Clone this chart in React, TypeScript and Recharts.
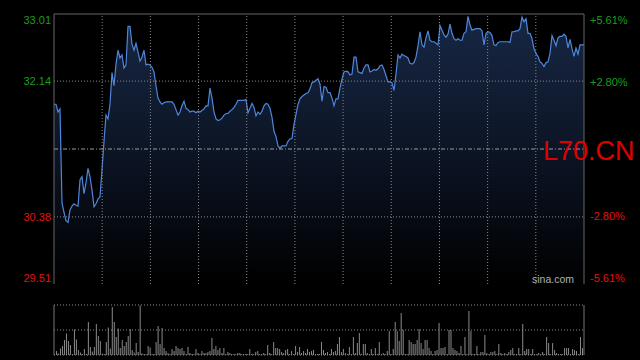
import React from "react";
import {
  ComposedChart,
  Area,
  Line,
  BarChart,
  Bar,
  XAxis,
  YAxis,
  ReferenceLine,
} from "recharts";

// intraday price per slot (2-minute style slots across the session)
const prices: number[] = [
  31.84, 31.84, 31.74, 31.78, 30.56, 30.44, 30.33, 30.31, 30.47, 30.52,
  30.55, 30.53, 30.52, 30.86, 30.9, 30.68, 30.82, 31.01, 30.9, 30.73,
  30.51, 30.55, 30.61, 30.64, 30.99, 31.36, 31.7, 31.65, 31.84, 32.25,
  32.08, 32.36, 32.54, 32.44, 32.48, 32.31, 32.35, 32.85, 32.85, 32.62,
  32.54, 32.63, 32.52, 32.4, 32.45, 32.54, 32.35, 32.36, 32.35, 32.32,
  32.26, 32.08, 31.92, 31.87, 31.84, 31.86, 31.87, 31.87, 31.87, 31.87,
  31.84, 31.77, 31.7, 31.74, 31.82, 31.88, 31.79, 31.77, 31.74, 31.75,
  31.75, 31.73, 31.75, 31.74, 31.76, 31.78, 31.82, 31.82, 32.05, 31.92,
  31.74, 31.65, 31.63, 31.64, 31.66, 31.7, 31.72, 31.72, 31.75, 31.77,
  31.8, 31.84, 31.89, 31.89, 31.89, 31.89, 31.9, 31.73, 31.79, 31.85,
  31.8, 31.69, 31.74, 31.71, 31.75, 31.82, 31.85, 31.84, 31.79, 31.67,
  31.49, 31.42, 31.3, 31.27, 31.3, 31.3, 31.3, 31.36, 31.39, 31.4,
  31.58, 31.71, 31.84, 31.91, 31.94, 31.96, 31.98, 31.99, 32.04, 32.12,
  32.13, 32.15, 32.17, 32.1, 31.88, 32.07, 32.06, 31.99, 31.99, 31.92,
  31.82, 31.91, 31.91, 32.05, 32.17, 32.26, 32.27, 32.26, 32.22, 32.23,
  32.45, 32.45, 32.26, 32.25, 32.24, 32.31, 32.35, 32.35, 32.26, 32.27,
  32.29, 32.28, 32.3, 32.34, 32.35, 32.29, 32.21, 32.13, 32.13, 32.12,
  32.02, 32.23, 32.48, 32.44, 32.49, 32.47, 32.46, 32.44, 32.37, 32.36,
  32.38, 32.45, 32.6, 32.78, 32.61, 32.58, 32.7, 32.79, 32.67, 32.65,
  32.65, 32.63, 32.61, 32.86, 32.8, 32.74, 32.71, 32.75, 32.88, 32.76,
  32.69, 32.67, 32.69, 32.67, 32.67, 32.76, 32.78, 32.98, 32.87, 32.8,
  32.81, 32.82, 32.82, 32.82, 32.79, 32.61, 32.76, 32.78, 32.77, 32.73,
  32.61, 32.6, 32.64, 32.65, 32.65, 32.65, 32.65, 32.65, 32.64, 32.78,
  32.78, 32.79, 32.79, 32.82, 32.97, 32.91, 32.95, 32.76, 32.76, 32.69,
  32.56, 32.5, 32.46, 32.39, 32.37, 32.33, 32.38, 32.39, 32.5, 32.73,
  32.67, 32.6, 32.7, 32.72, 32.72, 32.75, 32.72, 32.57, 32.68, 32.56,
  32.46, 32.57, 32.49, 32.61, 32.61, 32.61,
];

// traded volume per slot (relative units, panel max = 100)
const volumes: number[] = [
  2, 8, 3, 13, 18, 30, 43, 28, 20, 2, 51, 31, 10, 5, 2, 12, 2, 66, 16, 7,
  16, 62, 38, 28, 3, 2, 26, 55, 13, 96, 66, 36, 53, 14, 30, 18, 26, 38, 52, 10,
  5, 24, 6, 99, 3, 2, 2, 18, 15, 2, 2, 26, 58, 22, 54, 14, 8, 4, 2, 12,
  8, 18, 14, 12, 14, 8, 2, 16, 4, 2, 2, 12, 4, 2, 8, 4, 4, 6, 8, 34,
  12, 18, 10, 14, 4, 14, 2, 6, 4, 2, 2, 2, 4, 4, 2, 2, 2, 2, 12, 2,
  2, 6, 8, 2, 2, 4, 2, 20, 4, 2, 26, 14, 14, 12, 6, 4, 10, 12, 2, 8,
  2, 18, 6, 16, 4, 8, 4, 12, 6, 8, 10, 2, 2, 2, 26, 10, 4, 6, 2, 12,
  6, 8, 22, 36, 6, 12, 4, 2, 16, 2, 36, 4, 24, 44, 2, 22, 22, 4, 2, 12,
  2, 14, 2, 26, 2, 4, 2, 8, 48, 2, 12, 66, 48, 28, 84, 50, 2, 2, 30, 26,
  22, 22, 30, 52, 24, 12, 30, 30, 14, 8, 2, 8, 10, 64, 14, 14, 16, 2, 50, 50,
  14, 10, 8, 4, 18, 2, 36, 2, 88, 48, 2, 2, 18, 2, 6, 6, 40, 4, 2, 6,
  6, 8, 2, 22, 4, 2, 4, 2, 6, 10, 14, 2, 2, 14, 2, 62, 8, 12, 12, 2,
  12, 2, 2, 4, 2, 6, 2, 36, 24, 2, 24, 10, 4, 2, 2, 2, 14, 14, 14, 2,
  12, 10, 8, 2, 36, 14,
];

const prevClose = 31.26;
const priceMin = 29.51;
const priceMax = 33.01;
const pctMin = -5.61;
const pctMax = 5.61;
const priceTicks: number[] = [29.51, 30.38, 32.14, 33.01];
const pctTicks: number[] = [-5.61, -2.8, 2.8, 5.61];
const pctGrid: number[] = [30.38, 32.14];
const volTicks: number[] = [0, 50, 100];
const symbol = "L70.CN";
const brand = "sina.com";

const GREEN = "#1a9e1a";
const RED = "#e01010";
const FONT = "'Liberation Sans', Arial, sans-serif";

const rows = prices.map((p, i) => ({ i, p, v: volumes[i] }));
const lastIdx = prices.length - 1;
const xGrid = Array.from({ length: 10 }, (_, k) => ((k + 1) * lastIdx) / 11);

const LeftTick = (props: any) => {
  const { x, y, payload } = props;
  const v = payload.value as number;
  let dy = 4;
  if (v >= priceMax - 1e-6) dy = 10;
  if (v <= priceMin + 1e-6) dy = -2;
  return (
    <text
      x={x}
      y={y + dy}
      textAnchor="end"
      fontFamily={FONT}
      fontSize={11}
      fill={v >= prevClose ? GREEN : RED}
    >
      {v.toFixed(2)}
    </text>
  );
};

const RightTick = (props: any) => {
  const { x, y, payload } = props;
  const v = payload.value as number;
  let dy = 4;
  if (v >= pctMax - 1e-6) dy = 10;
  if (v <= pctMin + 1e-6) dy = -2;
  return (
    <text
      x={x}
      y={y + dy}
      textAnchor="start"
      fontFamily={FONT}
      fontSize={11}
      fill={v > 0 ? GREEN : RED}
    >
      {(v > 0 ? "+" : "") + v.toFixed(2) + "%"}
    </text>
  );
};

export default function App() {
  return (
    <div
      style={{
        position: "fixed",
        left: 0,
        top: 0,
        width: 640,
        height: 360,
        background: "#000",
        overflow: "hidden",
      }}
    >
      <div style={{ position: "absolute", left: 0, top: 0 }}>
        <ComposedChart
          width={640}
          height={300}
          data={rows}
          margin={{ top: 14, right: 0, bottom: 16, left: 0 }}
        >
          <defs>
            <linearGradient id="fillGrad" x1="0" y1="0" x2="0" y2="1">
              <stop offset="0%" stopColor="#172744" stopOpacity={1} />
              <stop offset="55%" stopColor="#0b1322" stopOpacity={1} />
              <stop offset="100%" stopColor="#000000" stopOpacity={1} />
            </linearGradient>
          </defs>
          <XAxis
            dataKey="i"
            type="number"
            domain={[0, lastIdx]}
            ticks={[]}
            tick={false}
            tickLine={false}
            height={0}
            axisLine={{ stroke: "#666" }}
          />
          <YAxis
            yAxisId="price"
            orientation="left"
            width={54}
            type="number"
            domain={[priceMin, priceMax]}
            allowDataOverflow
            ticks={priceTicks}
            tick={<LeftTick />}
            tickLine={false}
            tickSize={0}
            tickMargin={3}
            axisLine={{ stroke: "#666" }}
            interval={0}
          />
          <YAxis
            yAxisId="pct"
            orientation="right"
            width={56}
            type="number"
            domain={[pctMin, pctMax]}
            allowDataOverflow
            ticks={pctTicks}
            tick={<RightTick />}
            tickLine={false}
            tickSize={0}
            tickMargin={6}
            axisLine={{ stroke: "#666" }}
            interval={0}
          />
          <Area
            yAxisId="price"
            dataKey="p"
            type="linear"
            stroke="#4f86dc"
            strokeWidth={1.2}
            fill="url(#fillGrad)"
            fillOpacity={1}
            dot={false}
            activeDot={false}
            isAnimationActive={false}
          />
          <Line
            yAxisId="pct"
            dataKey="v"
            stroke="none"
            dot={false}
            activeDot={false}
            legendType="none"
            isAnimationActive={false}
          />
          {xGrid.map((t, k) => (
            <ReferenceLine
              key={"vx" + k}
              yAxisId="price"
              x={t}
              stroke="#8a8a8a"
              strokeDasharray="1 2"
              strokeWidth={1}
            />
          ))}
          {pctGrid.map((t, k) => (
            <ReferenceLine
              key={"hy" + k}
              yAxisId="price"
              y={t}
              stroke="#8a8a8a"
              strokeDasharray="1 2"
              strokeWidth={1}
            />
          ))}
          <ReferenceLine
            yAxisId="price"
            y={prevClose}
            stroke="#9a9a9a"
            strokeDasharray="4 2 1 2"
            strokeWidth={1}
          />
          <ReferenceLine
            yAxisId="price"
            y={priceMax}
            stroke="#666"
            strokeWidth={1}
          />
        </ComposedChart>
      </div>
      <div style={{ position: "absolute", left: 0, top: 300 }}>
        <BarChart
          width={640}
          height={60}
          data={rows}
          margin={{ top: 5, right: 0, bottom: 5, left: 0 }}
          barCategoryGap={0}
        >
          <XAxis dataKey="i" hide />
          <YAxis
            yAxisId="vol"
            orientation="left"
            width={54}
            type="number"
            domain={[0, 100]}
            ticks={[]}
            tick={false}
            tickLine={false}
            axisLine={{ stroke: "#777" }}
          />
          <YAxis
            yAxisId="volR"
            orientation="right"
            width={56}
            type="number"
            domain={[0, 100]}
            ticks={[]}
            tick={false}
            tickLine={false}
            axisLine={{ stroke: "#777" }}
          />
          {volTicks.map((t, k) => (
            <ReferenceLine
              key={"vt" + k}
              yAxisId="vol"
              y={t}
              stroke="#8a8a8a"
              strokeDasharray="1 2"
              strokeWidth={1}
            />
          ))}
          <Bar
            yAxisId="vol"
            dataKey="v"
            fill="#8a8a8a"
            barSize={1}
            isAnimationActive={false}
          />
        </BarChart>
      </div>
      <svg
        width={640}
        height={360}
        style={{ position: "absolute", left: 0, top: 0, pointerEvents: "none" }}
      >
        <text x={543} y={160} fontFamily={FONT} fontSize={27} fill="#e00000">
          {symbol}
        </text>
        <text x={532} y={283} fontFamily={FONT} fontSize={10.5} fill="#b0b0b0">
          {brand}
        </text>
      </svg>
    </div>
  );
}
